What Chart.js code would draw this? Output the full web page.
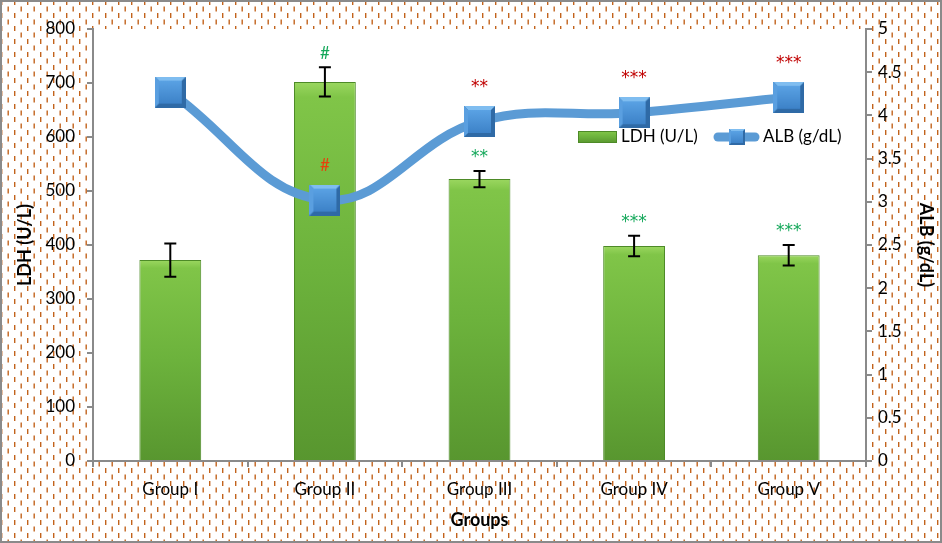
<!DOCTYPE html>
<html>
<head>
<meta charset="utf-8">
<script src="https://cdn.jsdelivr.net/npm/chart.js@4.4.1/dist/chart.umd.min.js"></script>
<style>
  body { margin: 0; background: #fff; }
  canvas { display: block; }
</style>
</head>
<body>
<canvas id="chart" width="942" height="543"></canvas>
<script>
// data
const groups = ["Group I", "Group II", "Group III", "Group IV", "Group V"];
const ldh = [372, 702, 522, 398, 381];
const ldhSd = [31, 27, 15, 19, 19];
const alb = [4.27, 3.02, 3.93, 4.03, 4.21];
const ldhSig = ["", "#", "**", "***", "***"];
const albSig = ["", "#", "**", "***", "***"];

// dashed background tile
const tile = document.createElement("canvas");
tile.width = 13;
tile.height = 13;
const tctx = tile.getContext("2d");
tctx.fillStyle = "#fff";
tctx.fillRect(0, 0, 13, 13);
tctx.fillStyle = "#c2631c";
tctx.fillRect(1, 0, 1.4, 5);
tctx.fillRect(7.5, 6.5, 1.4, 5);

// bevelled square marker
function makeMarker(size) {
  const c = document.createElement("canvas");
  c.width = size;
  c.height = size;
  const g = c.getContext("2d");
  const b = Math.round(size * 0.12);
  g.fillStyle = "#2f6aa6";
  g.fillRect(0, 0, size, size);
  g.fillStyle = "#7fbdf0";
  g.beginPath();
  g.moveTo(0, 0); g.lineTo(size, 0); g.lineTo(size - b, b); g.lineTo(b, b); g.closePath();
  g.fill();
  g.fillStyle = "#5a9fe0";
  g.beginPath();
  g.moveTo(0, 0); g.lineTo(b, b); g.lineTo(b, size - b); g.lineTo(0, size); g.closePath();
  g.fill();
  const grad = g.createLinearGradient(0, b, 0, size - b);
  grad.addColorStop(0, "#5aa2e4");
  grad.addColorStop(1, "#3d82c8");
  g.fillStyle = grad;
  g.fillRect(b, b, size - 2 * b, size - 2 * b);
  return c;
}
const marker = makeMarker(31);
const smallMarker = makeMarker(16);

function barFill(ctx, top, bottom) {
  const g = ctx.createLinearGradient(0, top, 0, bottom);
  g.addColorStop(0, "#9bd760");
  g.addColorStop(0.04, "#80c548");
  g.addColorStop(0.5, "#6cb23c");
  g.addColorStop(1, "#58962f");
  return g;
}

function sigFont(s) {
  return s === "#" ? "17px Lato" : "17px 'DejaVu Sans'";
}

const decor = {
  id: "decor",
  beforeDraw(chart) {
    const { ctx, chartArea: a } = chart;
    ctx.save();
    ctx.fillStyle = ctx.createPattern(tile, "repeat");
    ctx.fillRect(0, 0, chart.width, chart.height);
    ctx.fillStyle = "#fff";
    ctx.fillRect(a.left, a.top, a.right - a.left, a.bottom - a.top);
    ctx.restore();
  },
  afterDatasetsDraw(chart) {
    const { ctx } = chart;
    const x = chart.scales.x, y = chart.scales.y, y1 = chart.scales.y1;
    ctx.save();
    // error bars
    ctx.strokeStyle = "#000";
    ctx.lineWidth = 2;
    ldh.forEach((v, i) => {
      const cx = x.getPixelForValue(i);
      const t = y.getPixelForValue(v + ldhSd[i]);
      const b = y.getPixelForValue(v - ldhSd[i]);
      ctx.beginPath();
      ctx.moveTo(cx, t); ctx.lineTo(cx, b);
      ctx.moveTo(cx - 6, t); ctx.lineTo(cx + 6, t);
      ctx.moveTo(cx - 6, b); ctx.lineTo(cx + 6, b);
      ctx.stroke();
    });
    // significance marks
    ctx.textAlign = "center";
    ctx.textBaseline = "middle";
    ldhSig.forEach((s, i) => {
      if (!s) return;
      const cx = x.getPixelForValue(i);
      const t = y.getPixelForValue(ldh[i] + ldhSd[i]);
      ctx.font = sigFont(s);
      ctx.fillStyle = "#14a85a";
      ctx.fillText(s, cx, t - (s === "#" ? 14 : 13));
    });
    albSig.forEach((s, i) => {
      if (!s) return;
      const cx = x.getPixelForValue(i);
      const t = y1.getPixelForValue(alb[i]);
      ctx.font = sigFont(s);
      ctx.fillStyle = s === "#" ? "#e8400c" : "#c00000";
      ctx.fillText(s, cx, t - (s === "#" ? 35 : 34));
    });
    ctx.restore();
  },
  afterDraw(chart) {
    const { ctx } = chart;
    ctx.save();
    // legend
    ctx.fillStyle = barFill(ctx, 131, 143);
    ctx.fillRect(578, 131, 39, 12);
    ctx.strokeStyle = "#4d8a27";
    ctx.lineWidth = 1;
    ctx.strokeRect(578.5, 131.5, 38, 11);
    ctx.font = "17px Lato";
    ctx.fillStyle = "#000";
    ctx.textBaseline = "middle";
    ctx.fillText("LDH (U/L)", 621, 137);
    ctx.strokeStyle = "#5b9bd5";
    ctx.lineWidth = 9;
    ctx.lineCap = "round";
    ctx.beginPath();
    ctx.moveTo(718, 137); ctx.lineTo(755, 137);
    ctx.stroke();
    ctx.drawImage(smallMarker, 729, 129);
    ctx.fillStyle = "#000";
    ctx.fillText("ALB (g/dL)", 763, 137);
    // outer border
    ctx.strokeStyle = "#8a8a8a";
    ctx.lineWidth = 2;
    ctx.strokeRect(1, 1, chart.width - 2, chart.height - 2);
    ctx.restore();
  }
};

const tickFont = { family: "Lato", size: 17 };
const titleFont = { family: "Lato", size: 18, weight: "bold" };

new Chart(document.getElementById("chart"), {
  type: "bar",
  data: {
    labels: groups,
    datasets: [
      {
        type: "line",
        label: "ALB (g/dL)",
        data: alb,
        yAxisID: "y1",
        borderColor: "#5b9bd5",
        borderWidth: 9,
        tension: 0.4,
        pointStyle: marker,
        pointRadius: 16,
        order: 0
      },
      {
        label: "LDH (U/L)",
        data: ldh,
        yAxisID: "y",
        backgroundColor: (c) => {
          const ch = c.chart;
          if (!ch.chartArea || c.dataIndex === undefined) return "#6cb23c";
          const top = ch.scales.y.getPixelForValue(ldh[c.dataIndex]);
          return barFill(ch.ctx, top, ch.chartArea.bottom);
        },
        borderColor: "#4d8a27",
        borderWidth: 1,
        categoryPercentage: 1,
        barPercentage: 0.4,
        order: 1
      }
    ]
  },
  options: {
    responsive: false,
    animation: false,
    layout: { padding: { top: 29, left: 0, right: 0, bottom: 0 } },
    plugins: {
      legend: { display: false },
      tooltip: { enabled: false }
    },
    scales: {
      x: {
        grid: { drawOnChartArea: false, offset: true, tickLength: 6, color: "#8a8a8a", lineWidth: 2 },
        border: { color: "#8a8a8a", width: 2 },
        ticks: { font: tickFont, color: "#000", padding: 12 },
        title: { display: true, text: "Groups", font: titleFont, color: "#000", padding: { top: 0, bottom: 12 } },
        afterFit: (s) => { s.height = 82; }
      },
      y: {
        position: "left",
        min: 0,
        max: 800,
        ticks: { stepSize: 100, font: tickFont, color: "#000", padding: 12 },
        grid: { drawOnChartArea: false, tickLength: 6, color: "#8a8a8a", lineWidth: 2 },
        border: { color: "#8a8a8a", width: 2 },
        title: { display: true, text: "LDH (U/L)", font: titleFont, color: "#000", padding: { top: 14 } },
        afterFit: (s) => { s.width = 93; }
      },
      y1: {
        position: "right",
        min: 0,
        max: 5,
        ticks: { stepSize: 0.5, font: tickFont, color: "#000", padding: 6, callback: (v) => String(v) },
        grid: { drawOnChartArea: false, tickLength: 6, color: "#8a8a8a", lineWidth: 2 },
        border: { color: "#8a8a8a", width: 2 },
        title: { display: true, text: "ALB (g/dL)", font: titleFont, color: "#000", padding: { top: 5 } },
        afterFit: (s) => { s.width = 76; }
      }
    }
  },
  plugins: [decor]
});
</script>
</body>
</html>
